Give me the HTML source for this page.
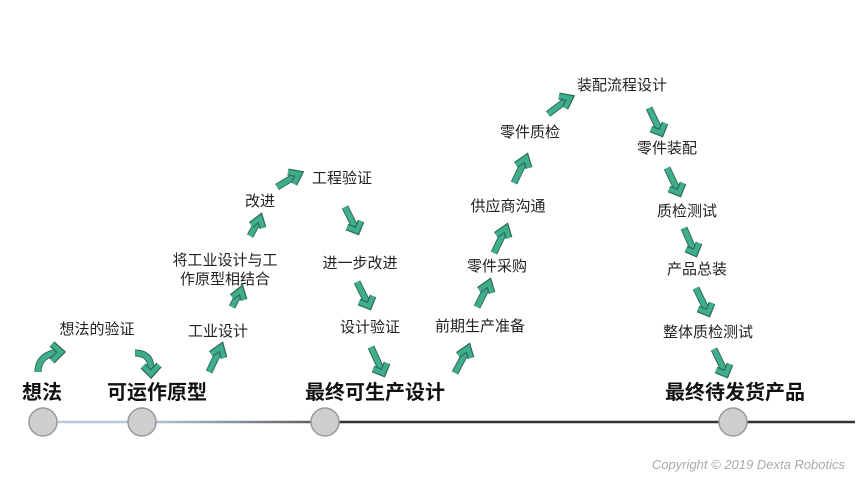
<!DOCTYPE html>
<html><head><meta charset="utf-8"><style>
html,body{margin:0;padding:0;background:#fff;}
svg{display:block;}
text{font-family:"Liberation Sans","Noto Sans CJK SC",sans-serif;fill:#222;}
.s{font-size:15px;}
.b{font-size:20px;font-weight:bold;fill:#111;}
</style></head><body>
<svg width="865" height="487" viewBox="0 0 865 487" xmlns="http://www.w3.org/2000/svg">
<defs>
<linearGradient id="g" x1="142" y1="0" x2="330" y2="0" gradientUnits="userSpaceOnUse">
<stop offset="0" stop-color="#b9c9dc"/><stop offset="1" stop-color="#555"/></linearGradient>
</defs>
<!-- timeline -->
<line x1="57" y1="422" x2="142" y2="422" stroke="#b9c9e0" stroke-width="2.5"/>
<line x1="142" y1="422" x2="330" y2="422" stroke="url(#g)" stroke-width="2.5"/>
<line x1="330" y1="422" x2="855" y2="422" stroke="#333" stroke-width="2.5"/>
<g fill="#cfcfcf" stroke="#999" stroke-width="1.5">
<circle cx="43" cy="422" r="14"/><circle cx="142" cy="422" r="14"/>
<circle cx="325" cy="422" r="14"/><circle cx="733" cy="422" r="14"/>
</g>
<!-- big labels -->
<g class="b" text-anchor="middle">
<text x="42" y="399" class="b">想法</text>
<text x="157" y="399" class="b">可运作原型</text>
<text x="375" y="399" class="b">最终可生产设计</text>
<text x="735" y="399" class="b">最终待发货产品</text>
</g>
<!-- small labels -->
<g text-anchor="middle">
<text class="s" x="97" y="334">想法的验证</text>
<text class="s" x="218" y="336">工业设计</text>
<text class="s" x="225" y="265">将工业设计与工</text>
<text class="s" x="225" y="284">作原型相结合</text>
<text class="s" x="260" y="206">改进</text>
<text class="s" x="342" y="183">工程验证</text>
<text class="s" x="360" y="268">进一步改进</text>
<text class="s" x="370" y="332">设计验证</text>
<text class="s" x="480" y="331">前期生产准备</text>
<text class="s" x="497" y="271">零件采购</text>
<text class="s" x="508" y="211">供应商沟通</text>
<text class="s" x="530" y="137">零件质检</text>
<text class="s" x="622" y="90">装配流程设计</text>
<text class="s" x="667" y="153">零件装配</text>
<text class="s" x="687" y="216">质检测试</text>
<text class="s" x="697" y="274">产品总装</text>
<text class="s" x="708" y="337">整体质检测试</text>
</g>
<text x="845" y="469" text-anchor="end" style="font-size:13px;font-style:italic;fill:#aaa;">Copyright © 2019 Dexta Robotics</text>
<!-- arrows -->
<g stroke-linecap="butt" stroke-linejoin="miter" fill="none">
<g stroke="#2f6b58" stroke-width="7">
<path id="a1" d="M38 372 Q38 355 58 352"/>
<path d="M135 353 Q152 353 151 371"/>
<line x1="209" y1="372" x2="220" y2="349"/>
<line x1="232" y1="307" x2="240" y2="292"/>
<line x1="250" y1="236" x2="259" y2="220"/>
<line x1="277" y1="187" x2="297" y2="175"/>
<line x1="345" y1="207" x2="356" y2="229"/>
<line x1="357" y1="282" x2="368" y2="304"/>
<line x1="371" y1="347" x2="382" y2="371"/>
<line x1="455" y1="373" x2="467" y2="350"/>
<line x1="477" y1="307" x2="488" y2="285"/>
<line x1="494" y1="253" x2="505" y2="230"/>
<line x1="514" y1="183" x2="525" y2="160"/>
<line x1="548" y1="114" x2="568" y2="99"/>
<line x1="649" y1="108" x2="660" y2="131"/>
<line x1="667" y1="168" x2="678" y2="191"/>
<line x1="684" y1="228" x2="694" y2="251"/>
<line x1="696" y1="288" x2="707" y2="311"/>
<line x1="714" y1="349" x2="725" y2="372"/>
</g>
<g stroke="#3fae8c" stroke-width="5">
<path d="M38 372 Q38 355 58 352"/>
<path d="M135 353 Q152 353 151 371"/>
<line x1="209" y1="372" x2="220" y2="349"/>
<line x1="232" y1="307" x2="240" y2="292"/>
<line x1="250" y1="236" x2="259" y2="220"/>
<line x1="277" y1="187" x2="297" y2="175"/>
<line x1="345" y1="207" x2="356" y2="229"/>
<line x1="357" y1="282" x2="368" y2="304"/>
<line x1="371" y1="347" x2="382" y2="371"/>
<line x1="455" y1="373" x2="467" y2="350"/>
<line x1="477" y1="307" x2="488" y2="285"/>
<line x1="494" y1="253" x2="505" y2="230"/>
<line x1="514" y1="183" x2="525" y2="160"/>
<line x1="548" y1="114" x2="568" y2="99"/>
<line x1="649" y1="108" x2="660" y2="131"/>
<line x1="667" y1="168" x2="678" y2="191"/>
<line x1="684" y1="228" x2="694" y2="251"/>
<line x1="696" y1="288" x2="707" y2="311"/>
<line x1="714" y1="349" x2="725" y2="372"/>
</g>
<!-- heads -->
<g stroke="#2f6b58" stroke-width="7">
<polyline points="52,344 61,352 52,361"/>
<polyline points="143,366 151,374 159,365"/>
<polyline points="211,354 221,347 224,358"/>
<polyline points="232,297 241,290 244,300"/>
<polyline points="251,225 260,218 263,228"/>
<polyline points="288,172 299,174 294,184"/>
<polyline points="347,227 357,231 361,221"/>
<polyline points="359,302 369,306 373,296"/>
<polyline points="373,369 383,373 387,363"/>
<polyline points="458,355 468,348 471,358"/>
<polyline points="479,290 489,283 492,293"/>
<polyline points="496,235 506,228 509,238"/>
<polyline points="516,165 526,158 529,168"/>
<polyline points="559,96 570,98 565,108"/>
<polyline points="651,129 661,133 665,123"/>
<polyline points="669,189 679,193 683,183"/>
<polyline points="686,249 695,253 699,243"/>
<polyline points="698,309 708,313 712,303"/>
<polyline points="716,370 726,374 730,364"/>
</g>
<g stroke="#3fae8c" stroke-width="4.5">
<polyline points="52,344 61,352 52,361"/>
<polyline points="143,366 151,374 159,365"/>
<polyline points="211,354 221,347 224,358"/>
<polyline points="232,297 241,290 244,300"/>
<polyline points="251,225 260,218 263,228"/>
<polyline points="288,172 299,174 294,184"/>
<polyline points="347,227 357,231 361,221"/>
<polyline points="359,302 369,306 373,296"/>
<polyline points="373,369 383,373 387,363"/>
<polyline points="458,355 468,348 471,358"/>
<polyline points="479,290 489,283 492,293"/>
<polyline points="496,235 506,228 509,238"/>
<polyline points="516,165 526,158 529,168"/>
<polyline points="559,96 570,98 565,108"/>
<polyline points="651,129 661,133 665,123"/>
<polyline points="669,189 679,193 683,183"/>
<polyline points="686,249 695,253 699,243"/>
<polyline points="698,309 708,313 712,303"/>
<polyline points="716,370 726,374 730,364"/>
</g>
</g>
</svg>
</body></html>
